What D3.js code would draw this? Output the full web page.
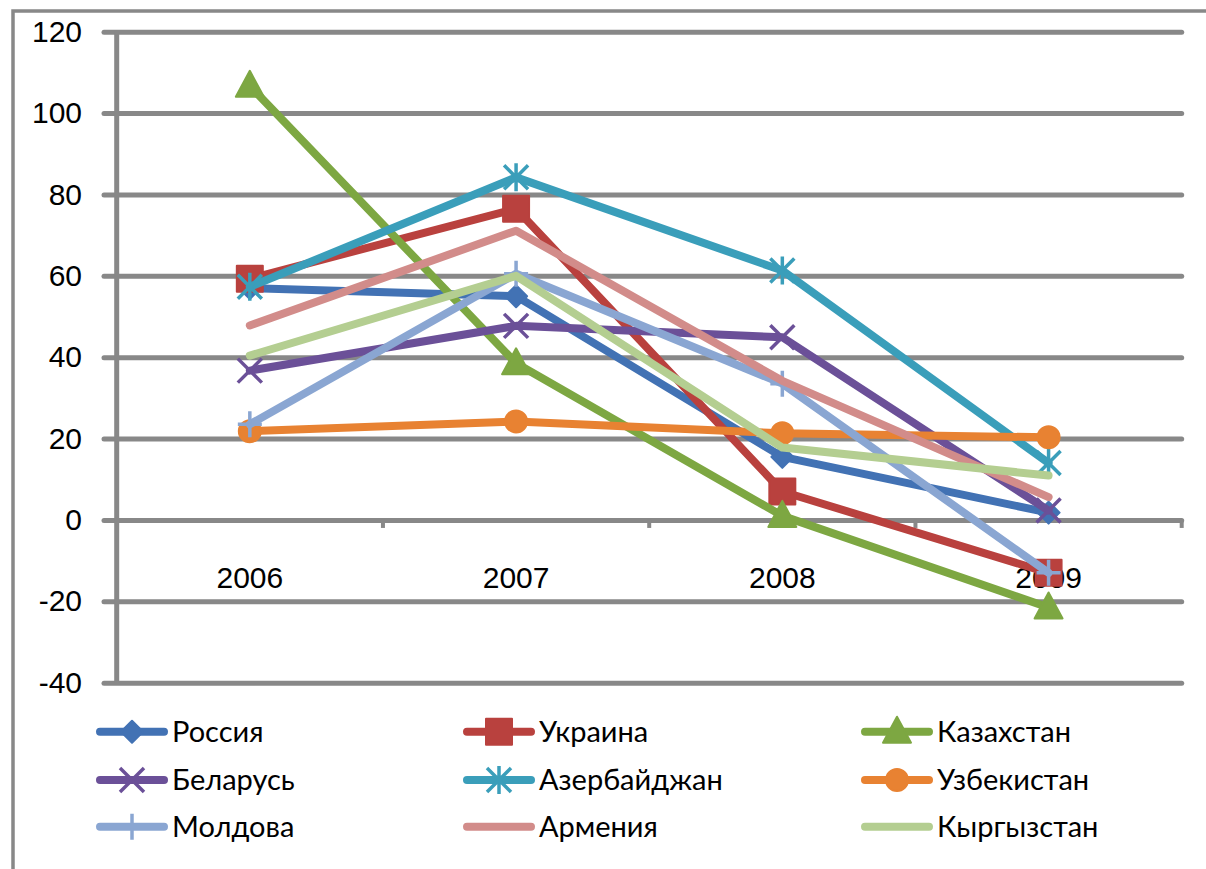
<!DOCTYPE html>
<html>
<head>
<meta charset="utf-8">
<script src="https://cdn.jsdelivr.net/npm/d3@7"></script>
<style>
    html, body { margin: 0; padding: 0; background: #fff; overflow: hidden; }
    svg { display: block; font-family: Lato, 'Open Sans', sans-serif; }
    .axis text { font-size: 30px; fill: #000; }
    .legend text { font-size: 29px; fill: #000; }
</style>
</head>
<body>
<svg id="chart"></svg>
<script>
(function (d3) {
    'use strict';

    // data
    var years = ['2006', '2007', '2008', '2009'];
    var yTicks = [-40, -20, 0, 20, 40, 60, 80, 100, 120];

    var russia      = [57, 55, 15.5, 1.8];
    var ukraine     = [59.3, 76.5, 7, -13];
    var kazakhstan  = [106.7, 38.5, 1, -21.5];
    var belarus     = [36.7, 47.7, 44.9, 2.3];
    var azerbaijan  = [57.3, 84.2, 61.3, 14];
    var uzbekistan  = [21.8, 24.2, 21.3, 20.3];
    var moldova     = [23.5, 60.5, 33.5, -13];
    var armenia     = [47.8, 71.1, 34.2, 5.6];
    var kyrgyzstan  = [40.4, 60, 17.8, 10.9];

    var names   = ['Россия', 'Украина', 'Казахстан', 'Беларусь', 'Азербайджан', 'Узбекистан', 'Молдова', 'Армения', 'Кыргызстан'];
    var markers = ['diamond', 'square', 'triangle', 'x', 'star', 'circle', 'plus', 'none', 'none'];
    var colors  = ['#4272b4', '#b9413e', '#7da742', '#6b5098', '#3a9eba', '#e88232', '#8aa6d2', '#d28c8a', '#b4ce91'];

    var series = [russia, ukraine, kazakhstan, belarus, azerbaijan, uzbekistan, moldova, armenia, kyrgyzstan]
        .map(function (vals, i) {
            return { name: names[i], marker: markers[i], color: colors[i], values: vals };
        });

    var width = 1206,
        height = 869,
        plot = { left: 116.7, right: 1181.7, top: 31.7, bottom: 682.7 };

    var grey = '#888888';

    var x = d3.scaleBand().domain(years).range([plot.left, plot.right]),
        y = d3.scaleLinear().domain([-40, 120]).range([plot.bottom, plot.top]);

    var svg = d3.select('#chart')
        .attr('width', width)
        .attr('height', height);

    // outer chart border (right and bottom are cut off)
    svg.append('rect')
        .attr('x', 13)
        .attr('y', 11)
        .attr('width', width + 20)
        .attr('height', height + 20)
        .attr('fill', 'none')
        .attr('stroke', grey)
        .attr('stroke-width', 3.5);

    // y axis labels + gridlines in one go
    var yAxis = svg.append('g')
        .attr('class', 'axis axis--y')
        .attr('transform', 'translate(' + plot.right + ',0)')
        .call(d3.axisLeft(y)
            .tickValues(yTicks)
            .tickFormat(function (d) { return String(d); })
            .tickSize(plot.right - 104)
            .tickPadding(22));
    yAxis.select('.domain').remove();
    yAxis.selectAll('.tick line')
        .attr('stroke', grey)
        .attr('stroke-width', 5)
        .attr('stroke-linecap', 'round');

    // vertical axis line
    svg.append('line')
        .attr('x1', plot.left).attr('x2', plot.left)
        .attr('y1', plot.top).attr('y2', plot.bottom)
        .attr('stroke', grey)
        .attr('stroke-width', 5);

    // category tick marks on the zero line
    svg.append('g')
        .selectAll('line')
        .data(years)
        .enter()
        .append('line')
        .attr('x1', function (d) { return x(d) + x.step(); })
        .attr('x2', function (d) { return x(d) + x.step(); })
        .attr('y1', y(0))
        .attr('y2', y(0) + 8)
        .attr('stroke', grey)
        .attr('stroke-width', 4);

    var xAxis = svg.append('g')
        .attr('class', 'axis axis--x')
        .attr('transform', 'translate(0,' + y(0) + ')')
        .call(d3.axisBottom(x).tickSize(0).tickPadding(47));
    xAxis.select('.domain').remove();

    function markerPath(type) {
        switch (type) {
            case 'diamond': return 'M0,-11L11,0L0,11L-11,0Z';
            case 'square': return 'M-13,-13H13V13H-13Z';
            case 'triangle': return 'M0,-15L14,11L-14,11Z';
            case 'circle': return d3.symbol().type(d3.symbolCircle).size(Math.PI * 11 * 11)();
            case 'x': return 'M-12,-12L12,12M12,-12L-12,12';
            case 'star': return 'M-12,-12L12,12M12,-12L-12,12M0,-14V14';
            case 'plus': return 'M0,-13V13M-12,0H12';
        }
        return null;
    }

    function isOpen(type) { return type === 'x' || type === 'star' || type === 'plus'; }

    function drawMarker(sel, d) {
        if (d.marker === 'none') return;
        sel.append('path')
            .attr('d', markerPath(d.marker))
            .attr('fill', isOpen(d.marker) ? 'none' : d.color)
            .attr('stroke', d.color)
            .attr('stroke-width', isOpen(d.marker) ? 3.5 : 2)
            .attr('stroke-linejoin', 'round');
    }

    var line = d3.line()
        .x(function (d, i) { return x(years[i]) + x.bandwidth() / 2; })
        .y(function (d) { return y(d); });

    var lines = svg.append('g')
        .selectAll('.series')
        .data(series)
        .enter()
        .append('g')
        .attr('class', 'series');

    lines.each(function (s) {
        var g = d3.select(this);
        g.append('path')
            .attr('d', line(s.values))
            .attr('fill', 'none')
            .attr('stroke', s.color)
            .attr('stroke-width', 8)
            .attr('stroke-linejoin', 'round')
            .attr('stroke-linecap', 'round');
        s.values.forEach(function (v, i) {
            var m = g.append('g')
                .attr('transform', 'translate(' + (x(years[i]) + x.bandwidth() / 2) + ',' + y(v) + ')');
            drawMarker(m, s);
        });
    });

    // legend, three columns
    var legendCols = [100, 467, 865],
        legendRows = [731.7, 780, 826.7];

    var legend = svg.append('g')
        .attr('class', 'legend')
        .selectAll('.legend-item')
        .data(series)
        .enter()
        .append('g')
        .attr('class', 'legend-item')
        .attr('transform', function (d, i) {
            return 'translate(' + legendCols[i % 3] + ',' + legendRows[Math.floor(i / 3)] + ')';
        });

    legend.append('line')
        .attr('x1', 0).attr('x2', 64)
        .attr('y1', 0).attr('y2', 0)
        .attr('stroke', function (d) { return d.color; })
        .attr('stroke-width', 8)
        .attr('stroke-linecap', 'round');

    legend.each(function (d) {
        var m = d3.select(this).append('g').attr('transform', 'translate(32,0)');
        drawMarker(m, d);
    });

    legend.append('text')
        .attr('x', 72)
        .attr('dy', '0.35em')
        .text(function (d) { return d.name; });

})(window.d3);
</script>
</body>
</html>
